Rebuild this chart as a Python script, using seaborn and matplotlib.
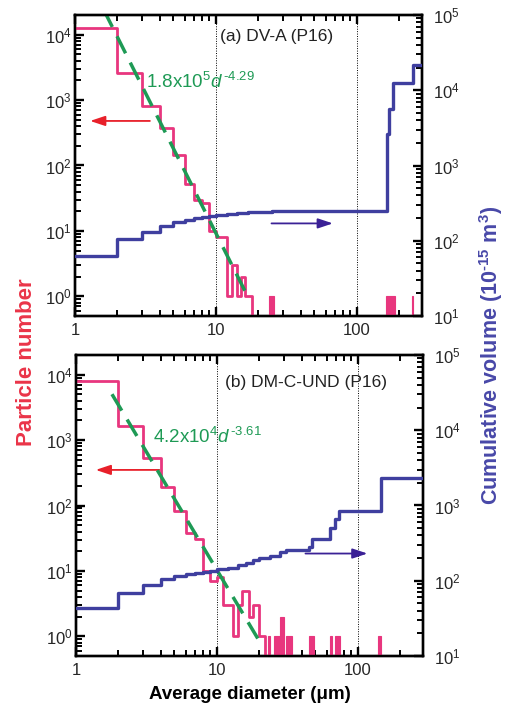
import numpy as np
import pandas as pd
import matplotlib
matplotlib.use("Agg")
import matplotlib.pyplot as plt
import seaborn as sns
from matplotlib.ticker import FixedLocator, FuncFormatter, NullFormatter

# ---------------- data ----------------
# panel (a) DV-A : particle number histogram (1-um bins)
edges_a = list(range(1, 20))
counts_a = [12700, 2570, 810, 380, 147, 52, 30, 27, 10, 8, 8, 1, 3, 1, 2, 1, 1, 0]
iso_left_a = [24, 162, 247]
iso_right_a = [26, 186, 251]
iso_count_a = [1, 1, 1]
cum_d_a = [1, 2, 3, 4, 5, 6, 7, 8, 9, 10, 12, 14, 17, 20, 25, 30, 163, 170, 181, 250, 290]
cum_v_a = [63, 107, 132, 158, 175, 189, 200, 209, 215, 222, 229, 234, 238, 243, 248, 251,
           2600, 5600, 12400, 21800, 21800]
fit_a = (1.8e5, -4.29)
fit_range_a = (1.6, 17.0)

# panel (b) DM-C-UND
edges_b = list(range(1, 24))
counts_b = [8000, 1630, 540, 190, 81, 38, 31, 10, 7, 8, 3, 3, 1, 3, 5, 5, 2, 3, 3, 1, 1, 0]
iso_left_b = [23, 25.5, 28, 31, 45, 63, 69, 138]
iso_right_b = [24, 28, 30, 34, 49, 66, 75, 146]
iso_count_b = [1, 1, 2, 1, 1, 1, 1, 1]
cum_d_b = [1, 2, 3, 4, 5, 6, 7, 8, 9, 10, 12, 14, 16, 18, 20, 24, 28, 31, 45, 47, 63, 69, 73, 145, 290]
cum_v_b = [43, 69, 88, 105, 115, 123, 128, 132, 136, 142, 148, 160, 172, 188, 200, 213, 240, 260,
           283, 362, 500, 657, 850, 2300, 2300]
fit_b = (4.2e4, -3.61)
fit_range_b = (1.8, 19.5)

x_ticks = [1, 10, 100]
left_ticks = [1, 10, 100, 1000, 10000]
right_ticks = [10, 100, 1000, 10000, 100000]

PINK = "#e8367e"
RED = "#e8202a"
BLUE = "#3f3f9f"
BLUE_ARROW = "#3b2196"
GREEN = "#1e9a55"

sns.set_style("ticks")
plt.rcParams["font.family"] = ["Liberation Sans", "DejaVu Sans"]
plt.rcParams["mathtext.fontset"] = "custom"
plt.rcParams["mathtext.rm"] = "Liberation Sans"
plt.rcParams["mathtext.it"] = "Liberation Sans:italic"
plt.rcParams["mathtext.bf"] = "Liberation Sans:bold"

fig = plt.figure(figsize=(5.1, 7.13), dpi=100)
ax_a = fig.add_axes([75 / 510, 1 - 316 / 713, 347 / 510, 301 / 713])
ax_b = fig.add_axes([76 / 510, 1 - 656 / 713, 347 / 510, 301 / 713])


def minors(lo_exp, hi_exp):
    return [m * 10.0 ** e for e in range(lo_exp, hi_exp) for m in range(2, 10)]


def pow_fmt(v, p):
    e = int(round(np.log10(v)))
    return r"$10^{%d}$" % e


def panel(ax, edges, counts, iso_l, iso_r, iso_c, cd, cv, fit, frange, label, eq,
          label_pos, eq_pos, red_arrow, blue_arrow):
    ax.set_xscale("log")
    ax.set_yscale("log")
    ax2 = ax.twinx()
    ax2.set_yscale("log")

    # dotted guides
    for xv in (10, 100):
        ax.axvline(xv, color="black", ls=(0, (1, 1.5)), lw=0.7, zorder=1)

    # particle number histogram
    y = np.array(counts + [counts[-1]], dtype=float)
    y[y <= 0] = 1e-3
    df = pd.DataFrame({"d": np.array(edges, dtype=float), "n": y})
    sns.lineplot(data=df, x="d", y="n", ax=ax, drawstyle="steps-post", color=PINK,
                 lw=2.0, estimator=None, sort=False, zorder=3)
    ax.bar(iso_l, iso_c, width=np.array(iso_r) - np.array(iso_l), align="edge",
           color=PINK, edgecolor=PINK, lw=0.8, zorder=3)

    # power-law fit
    A, k = fit
    fd = np.array(frange)
    dfit = pd.DataFrame({"d": fd, "n": A * fd ** k})
    sns.lineplot(data=dfit, x="d", y="n", ax=ax, color=GREEN, lw=2.5,
                 estimator=None, zorder=4)
    ax.lines[-1].set_dashes([5.5, 3])

    # cumulative volume
    dcv = pd.DataFrame({"d": np.array(cd, dtype=float), "v": np.array(cv, dtype=float)})
    sns.lineplot(data=dcv, x="d", y="v", ax=ax2, drawstyle="steps-post", color=BLUE,
                 lw=2.4, estimator=None, sort=False, zorder=5)

    # arrows
    ax.annotate("", xy=(red_arrow[1], red_arrow[2]), xytext=(red_arrow[0], red_arrow[2]),
                arrowprops=dict(arrowstyle="-|>,head_length=0.9,head_width=0.3",
                                color=RED, lw=1.3, shrinkA=0, shrinkB=0))
    ax2.annotate("", xy=(blue_arrow[1], blue_arrow[2]), xytext=(blue_arrow[0], blue_arrow[2]),
                 arrowprops=dict(arrowstyle="-|>,head_length=0.9,head_width=0.3",
                                 color=BLUE_ARROW, lw=1.3, shrinkA=0, shrinkB=0))

    ax.text(label_pos[0], label_pos[1], label, transform=ax.transAxes, fontsize=12.5,
            ha="left", va="center", color="#222222")
    ax.text(eq_pos[0], eq_pos[1], eq, transform=ax.transAxes, fontsize=13.5,
            ha="left", va="center", color=GREEN)

    # axes formatting
    ax.set_xlabel("")
    ax.set_ylabel("")
    ax2.set_ylabel("")
    ax.set_ylim(0.5, 2e4)
    ax2.set_ylim(10, 1e5)
    ax.set_xlim(1, 290)
    ax.xaxis.set_major_locator(FixedLocator(x_ticks))
    ax.xaxis.set_minor_locator(FixedLocator(minors(0, 3)))
    ax.xaxis.set_major_formatter(FuncFormatter(lambda v, p: f"{v:g}"))
    ax.xaxis.set_minor_formatter(NullFormatter())
    ax.yaxis.set_major_locator(FixedLocator(left_ticks))
    ax.yaxis.set_minor_locator(FixedLocator(minors(-1, 5)))
    ax.yaxis.set_major_formatter(FuncFormatter(pow_fmt))
    ax.yaxis.set_minor_formatter(NullFormatter())
    ax2.yaxis.set_major_locator(FixedLocator(right_ticks))
    ax2.yaxis.set_minor_locator(FixedLocator(minors(1, 5)))
    ax2.yaxis.set_major_formatter(FuncFormatter(pow_fmt))
    ax2.yaxis.set_minor_formatter(NullFormatter())

    for a in (ax, ax2):
        for sp in a.spines.values():
            sp.set_linewidth(1.7)
            sp.set_color("black")
    ax.tick_params(axis="x", which="major", direction="in", length=6.5, width=1.7,
                   labelsize=12, color="black", top=True, bottom=True, pad=5)
    ax.tick_params(axis="x", which="minor", direction="in", length=4.5, width=1.4,
                   color="black", top=True, bottom=True)
    ax.tick_params(axis="y", which="major", direction="in", length=6.5, width=1.7,
                   labelsize=12, color="black", left=True, right=False, pad=2.5)
    ax.tick_params(axis="y", which="minor", direction="in", length=4.5, width=1.4,
                   color="black", left=True, right=False)
    ax2.tick_params(axis="y", which="major", direction="in", length=6.5, width=1.7,
                    labelsize=12, color="black", left=False, right=True, pad=8)
    ax2.tick_params(axis="y", which="minor", direction="in", length=4.5, width=1.4,
                    color="black", left=False, right=True)
    return ax2


panel(ax_a, edges_a, counts_a, iso_left_a, iso_right_a, iso_count_a, cum_d_a, cum_v_a,
      fit_a, fit_range_a, "(a) DV-A (P16)", "1.8x10$^5$$\\it{d}$$^{\u2009\u20104.29}$",
      (0.418, 0.927), (0.205, 0.777), (3.4, 1.28, 480), (24.8, 67.6, 170))
panel(ax_b, edges_b, counts_b, iso_left_b, iso_right_b, iso_count_b, cum_d_b, cum_v_b,
      fit_b, fit_range_b, "(b) DM-C-UND (P16)", "4.2x10$^4$$\\it{d}$$^{\u2009\u20103.61}$",
      (0.43, 0.91), (0.222, 0.728), (3.9, 1.38, 350), (42.5, 117, 230))

fig.text(0.052, 0.492, "Particle number", rotation=90, ha="center", va="center",
         fontsize=16, fontweight="bold", color="#ea3448")
fig.text(0.963, 0.502, "Cumulative volume (10$^{\\mathbf{\u201015}}$ m$^{\\mathbf{3}}$)",
         rotation=90, ha="center", va="center", fontsize=15.5, fontweight="bold",
         color="#4848a8")
fig.text(0.49, 0.026, "Average diameter (\u03bcm)", ha="center", va="center",
         fontsize=13.5, fontweight="bold", color="black")

fig.savefig("out.png", dpi=100)
